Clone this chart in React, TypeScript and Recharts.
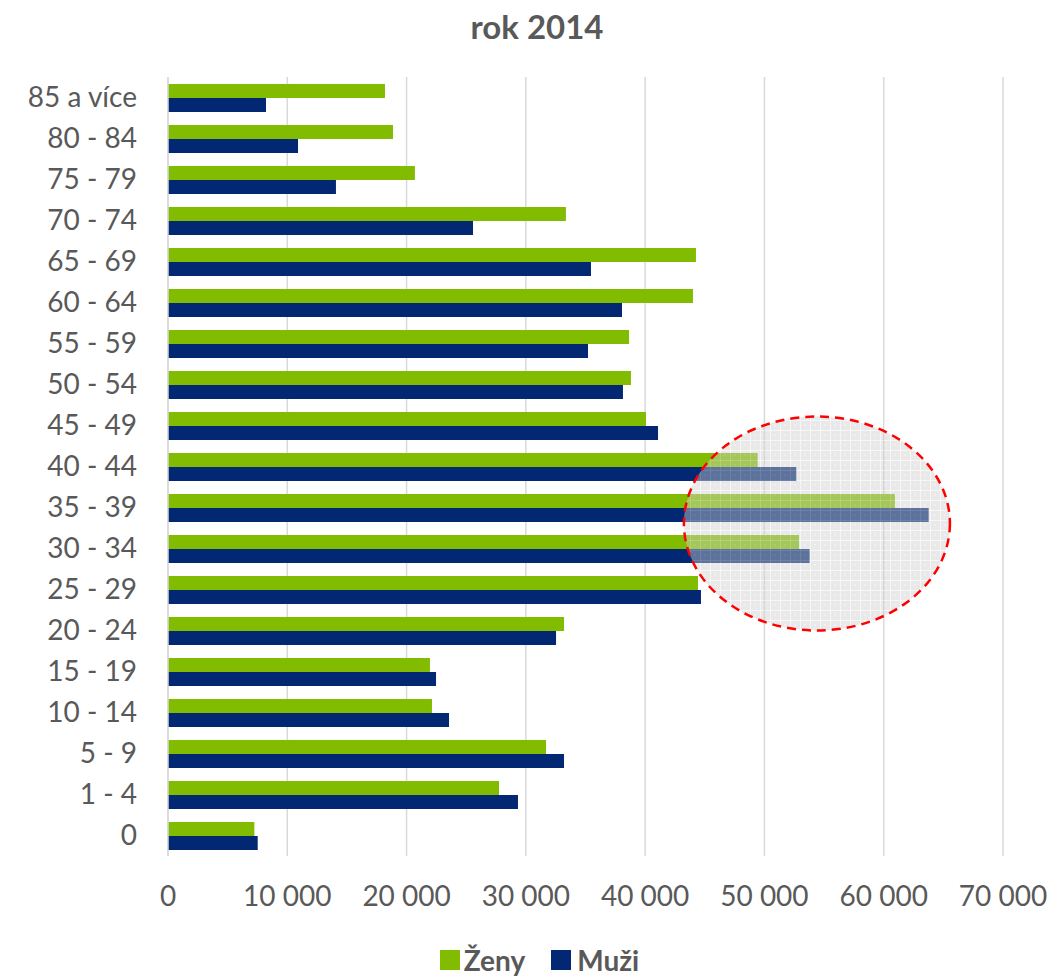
import React from 'react';
import { BarChart, Bar, XAxis, YAxis, CartesianGrid, Legend, ReferenceDot } from 'recharts';

const categories = [
  '85 a více', '80 - 84', '75 - 79', '70 - 74', '65 - 69', '60 - 64', '55 - 59',
  '50 - 54', '45 - 49', '40 - 44', '35 - 39', '30 - 34', '25 - 29', '20 - 24',
  '15 - 19', '10 - 14', '5 - 9', '1 - 4', '0',
];
const zeny = [18190, 18860, 20700, 33360, 44260, 44010, 38650, 38810, 40070, 49430, 60940, 52900, 44430, 33200, 21960, 22130, 31690, 27750, 7240];
const muzi = [8215, 10900, 14080, 25570, 35460, 38060, 35210, 38140, 41080, 52670, 63770, 53790, 44680, 32530, 22470, 23560, 33200, 29340, 7520];
const xTicks = [0, 10000, 20000, 30000, 40000, 50000, 60000, 70000];
const seriesNames = ['Ženy', 'Muži'];
const title = 'rok 2014';
const highlightX = 54400;
const highlightCategory = '35 - 39';

const GREEN = '#82BC00';
const BLUE = '#022873';
const TEXT = '#595959';
const FONT = 'Lato, "Open Sans", sans-serif';

const data = categories.map((c, i) => ({ age: c, zeny: zeny[i], muzi: muzi[i] }));

const fmt = (v: number) => String(v).replace(/\B(?=(\d{3})+(?!\d))/g, ' ');

const EllipseShape = (props: any) => {
  const { cx, cy } = props;
  if (cx == null || cy == null) return null;
  const ecy = cy + 16;
  return (
    <g>
      <defs>
        <pattern id="gridPat" width="10" height="10" patternUnits="userSpaceOnUse">
          <rect width="10" height="10" fill="#CFCFCF" />
          <path d="M0 0.5H10M0.5 0V10" stroke="#FFFFFF" strokeWidth="1" strokeOpacity="0.6" />
          <circle cx="5" cy="5" r="0.8" fill="#FFFFFF" fillOpacity="0.7" />
        </pattern>
      </defs>
      <ellipse cx={cx} cy={ecy} rx={133} ry={107} fill="url(#gridPat)" fillOpacity={0.45} />
      <ellipse cx={cx} cy={ecy} rx={133} ry={107} fill="none" stroke="#FF0000" strokeWidth={2.5} strokeDasharray="9 6" />
    </g>
  );
};

const LegendContent = () => (
  <div
    style={{
      display: 'flex',
      justifyContent: 'center',
      alignItems: 'center',
      height: 32,
      paddingLeft: 76,
      fontFamily: FONT,
      fontWeight: 700,
      fontSize: 28,
      color: TEXT,
    }}
  >
    <span style={{ display: 'inline-block', width: 20, height: 20, background: GREEN, marginRight: 4 }} />
    <span style={{ marginRight: 26 }}>{seriesNames[0]}</span>
    <span style={{ display: 'inline-block', width: 20, height: 20, background: BLUE, marginRight: 6 }} />
    <span>{seriesNames[1]}</span>
  </div>
);

export default function App() {
  return (
    <div style={{ position: 'absolute', left: 0, top: 0, width: 1052, height: 976, background: '#fff' }}>
      <div
        style={{
          position: 'absolute',
          left: 0,
          top: 6,
          width: 1074,
          textAlign: 'center',
          fontFamily: FONT,
          fontWeight: 700,
          fontSize: 33,
          color: TEXT,
          lineHeight: '40px',
        }}
      >
        {title}
      </div>
      <BarChart
        width={1052}
        height={976}
        data={data}
        layout="vertical"
        margin={{ top: 77, right: 49, bottom: 0, left: 0 }}
        barCategoryGap="17%"
        barGap={0}
      >
        <CartesianGrid horizontal={false} stroke="#D9D9D9" strokeWidth={1.5} />
        <XAxis
          type="number"
          domain={[0, 70000]}
          ticks={xTicks}
          tickFormatter={fmt}
          axisLine={false}
          tickLine={false}
          tickSize={0}
          tickMargin={30}
          height={88}
          interval={0}
          tick={{ fill: TEXT, fontSize: 28, fontFamily: FONT }}
        />
        <YAxis
          type="category"
          dataKey="age"
          width={168}
          axisLine={{ stroke: '#D9D9D9', strokeWidth: 1.5 }}
          tickLine={false}
          tickSize={0}
          tickMargin={31}
          interval={0}
          tick={{ fill: TEXT, fontSize: 28, fontFamily: FONT }}
        />
        <Legend verticalAlign="bottom" content={<LegendContent />} />
        <Bar dataKey="zeny" name={seriesNames[0]} fill={GREEN} isAnimationActive={false} />
        <Bar dataKey="muzi" name={seriesNames[1]} fill={BLUE} isAnimationActive={false} />
        <ReferenceDot x={highlightX} y={highlightCategory} ifOverflow="visible" shape={<EllipseShape />} />
      </BarChart>
    </div>
  );
}
